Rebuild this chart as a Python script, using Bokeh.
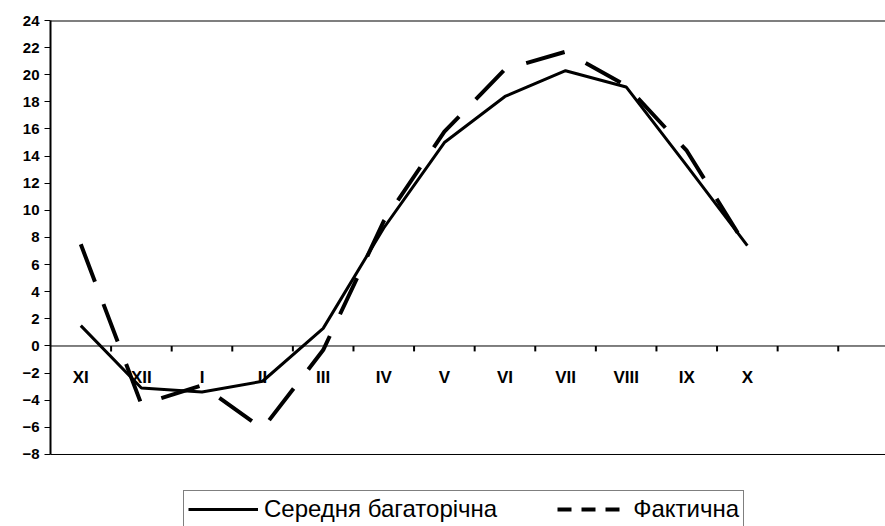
import numpy as np
from bokeh.plotting import figure
from bokeh.models import (ColumnDataSource, Span, Legend, LegendItem,
                          FixedTicker, Range1d)
from bokeh.core.properties import value
from bokeh.embed import file_html
from bokeh.resources import INLINE

months = ["XI", "XII", "I", "II", "III", "IV", "V", "VI", "VII", "VIII", "IX", "X"]
mean_longterm = [1.5, -3.1, -3.4, -2.6, 1.3, 8.7, 15.0, 18.4, 20.3, 19.1, 13.3, 7.4]
actual = [7.5, -4.3, -2.9, -6.1, -0.3, 9.2, 15.8, 20.4, 21.7, 19.2, 14.4, 7.2]
y_ticks = list(range(-8, 25, 2))
legend_labels = ["Середня багаторічна", "Фактична"]

FONT = "Liberation Sans"
idx = list(range(len(months)))
Y0, Y1 = -8, 24

p = figure(width=885, height=526, output_backend="svg", toolbar_location=None,
           x_range=Range1d(-0.5, 13.28), y_range=Range1d(-13.31, Y1),
           min_border_left=50, min_border_right=0, min_border_top=20,
           min_border_bottom=0)
p.background_fill_color = "white"
p.border_fill_color = "white"
p.outline_line_color = None
p.grid.visible = False
p.xaxis.visible = False

# left axis (only over the plotted value band)
ya = p.yaxis[0]
ya.ticker = FixedTicker(ticks=y_ticks)
ya.bounds = (Y0, Y1)
ya.axis_line_color = "black"
ya.axis_line_width = 2
ya.major_tick_out = 6
ya.major_tick_in = 0
ya.major_tick_line_width = 1
ya.minor_tick_line_color = None
ya.major_label_standoff = 5
ya.major_label_text_font = FONT
ya.major_label_text_font_style = "bold"
ya.major_label_text_font_size = "15px"
ya.major_label_text_color = "black"

# frame top / bottom lines and zero line
p.add_layout(Span(location=Y1, dimension="width", line_color="black", line_width=2))
p.add_layout(Span(location=Y0, dimension="width", line_color="black", line_width=1))
p.add_layout(Span(location=0, dimension="width", line_color="black", line_width=1))

bounds = [i + 0.5 for i in range(len(months) + 1)]
p.segment(x0=bounds, x1=bounds, y0=[0] * len(bounds), y1=[-0.4] * len(bounds),
          line_color="black", line_width=2)
p.text(x=idx, y=[0] * len(idx), text=months, text_font=value(FONT),
       text_font_style="bold", text_font_size="17px", text_align="center",
       text_baseline="middle", y_offset=32, text_color="black")

src = ColumnDataSource(dict(x=idx, mean=mean_longterm, act=actual))
p.line("x", "mean", source=src, line_color="black", line_width=3)
p.line("x", "act", source=src, line_color="black", line_width=4, line_dash="40 24")

# legend sample glyphs (no visible data of their own)
nan = np.array([np.nan])
g1 = p.line(x=nan, y=nan, line_color="black", line_width=3)
g2 = p.line(x=nan, y=nan, line_color="black", line_width=4, line_dash="14 10")

legend = Legend(items=[LegendItem(label=legend_labels[0], renderers=[g1]),
                       LegendItem(label=legend_labels[1], renderers=[g2])],
                orientation="horizontal", location=(133, -2),
                label_text_font=FONT, label_text_font_size="24px",
                label_text_color="black", glyph_width=70, glyph_height=24,
                label_standoff=6, spacing=60, padding=4, margin=0,
                border_line_color="black", border_line_width=1,
                background_fill_alpha=1)
p.add_layout(legend)

open("out.html", "w").write(file_html(p, INLINE))
